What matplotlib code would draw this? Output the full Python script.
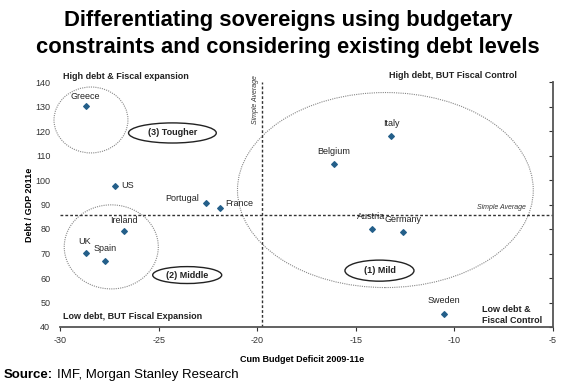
import matplotlib.pyplot as plt
from matplotlib.patches import Ellipse

# Country data
countries = ['Greece', 'US', 'Portugal', 'France', 'Ireland', 'UK', 'Spain',
             'Italy', 'Belgium', 'Austria', 'Germany', 'Sweden']
deficit = [-28.7, -27.2, -22.6, -21.9, -26.75, -28.7, -27.7,
           -13.2, -16.1, -14.2, -12.6, -10.55]
debt = [130.2, 97.6, 90.6, 88.6, 79.1, 70.3, 66.9,
        117.8, 106.7, 79.9, 78.7, 45.2]

avg_deficit = -19.75
avg_debt = 85.7

xticks = [-30, -25, -20, -15, -10, -5]
yticks = [40, 50, 60, 70, 80, 90, 100, 110, 120, 130, 140]

plt.rcParams['font.family'] = ['Liberation Sans', 'DejaVu Sans']
plt.rcParams['axes.unicode_minus'] = False

fig = plt.figure(figsize=(5.76, 3.85), dpi=100)
ax = fig.add_axes([60/576, 1 - 327/385, 493/576, 245/385])

ax.scatter(deficit, debt, marker='D', s=8, color='#245f8a', zorder=5)

# label offsets in points (dx, dy, ha)
offsets = {
    'Greece': (0, 7, 'center'), 'US': (4, 0, 'left'), 'Portugal': (-5, 3, 'right'),
    'France': (4, 3, 'left'), 'Ireland': (0, 8, 'center'), 'UK': (-1, 8, 'center'),
    'Spain': (0, 9, 'center'), 'Italy': (0, 9.5, 'center'), 'Belgium': (0, 8.5, 'center'),
    'Austria': (0, 9.5, 'center'), 'Germany': (0, 9, 'center'), 'Sweden': (0, 10, 'center'),
}
for name, x, y in zip(countries, deficit, debt):
    dx, dy, ha = offsets[name]
    ax.annotate(name, (x, y), xytext=(dx, dy), textcoords='offset points',
                ha=ha, va='center', fontsize=6.5, color='#222222')

# simple averages
ax.axvline(avg_deficit, color='#333333', ls=(0, (2, 1.5)), lw=1)
ax.axhline(avg_debt, color='#333333', ls=(0, (2, 1.5)), lw=1)
ax.text(avg_deficit - 0.35, 133, 'Simple Average', rotation=90, ha='center', va='center',
        fontsize=5, style='italic', color='#333333')
ax.text(-7.6, 87.3, 'Simple Average', ha='center', va='bottom',
        fontsize=5, style='italic', color='#333333')

# group circles
for cx, cy, w, h in [(-28.43, 124.5, 3.75, 26.9), (-27.4, 72.7, 4.77, 34.3),
                     (-13.5, 95.9, 15.0, 79.6)]:
    ax.add_patch(Ellipse((cx, cy), w, h, fill=False, ec='#888888', lw=0.8,
                         ls=(0, (1, 1)), clip_on=False))

# group labels
for cx, cy, w, h, txt in [(-24.3, 119.2, 4.45, 8.2, '(3) Tougher'),
                          (-23.55, 61.2, 3.5, 6.9, '(2) Middle'),
                          (-13.8, 63.0, 3.5, 8.6, '(1) Mild')]:
    ax.add_patch(Ellipse((cx, cy), w, h, fill=False, ec='#222222', lw=1))
    ax.text(cx, cy, txt, ha='center', va='center', fontsize=6.5, fontweight='bold',
            color='#222222')

# quadrant captions
ax.text(-29.85, 140.5, 'High debt & Fiscal expansion', fontsize=6.5, fontweight='bold',
        va='bottom', color='#222222')
ax.text(-10.05, 140.8, 'High debt, BUT Fiscal Control', fontsize=6.5, fontweight='bold',
        va='bottom', ha='center', color='#222222')
ax.text(-29.85, 42.5, 'Low debt, BUT Fiscal Expansion', fontsize=6.5, fontweight='bold',
        va='bottom', color='#222222')
ax.text(-8.6, 41.0, 'Low debt &\nFiscal Control', fontsize=6.5, fontweight='bold',
        va='bottom', ha='left', color='#222222', linespacing=1.25)

ax.set_xlim(-30, -5)
ax.set_ylim(40, 140)
ax.set_xticks(xticks)
ax.set_yticks(yticks)
ax.spines['top'].set_visible(False)
ax.spines['left'].set_visible(False)
ax.spines['right'].set_color('#555555')
ax.spines['bottom'].set_color('#555555')
ax.spines['right'].set_linewidth(1.3)
ax.spines['bottom'].set_linewidth(1.3)
ax.tick_params(axis='x', direction='out', length=3, labelsize=6.5, colors='#333333')
ax.tick_params(axis='y', which='both', direction='in', length=3, labelsize=6.5,
               colors='#333333', left=False, right=True, labelleft=True, labelright=False,
               pad=7)

ax.set_xlabel('Cum Budget Deficit 2009-11e', fontsize=6.5, fontweight='bold')
ax.set_ylabel('Debt / GDP 2011e', fontsize=6.5, fontweight='bold')
ax.xaxis.set_label_coords(0.49, -0.115)
ax.yaxis.set_label_coords(-0.052, 0.5)

fig.text(0.5, 0.947, 'Differentiating sovereigns using budgetary', ha='center', va='center',
         fontsize=15.8, fontweight='bold')
fig.text(0.5, 0.877, 'constraints and considering existing debt levels', ha='center',
         va='center', fontsize=15.8, fontweight='bold')

fig.text(0.006, 0.025, 'Source:', fontsize=9.5, fontweight='bold', va='center')
fig.text(0.099, 0.025, 'IMF, Morgan Stanley Research', fontsize=9.5, va='center')

fig.savefig('out.png', dpi=100)
